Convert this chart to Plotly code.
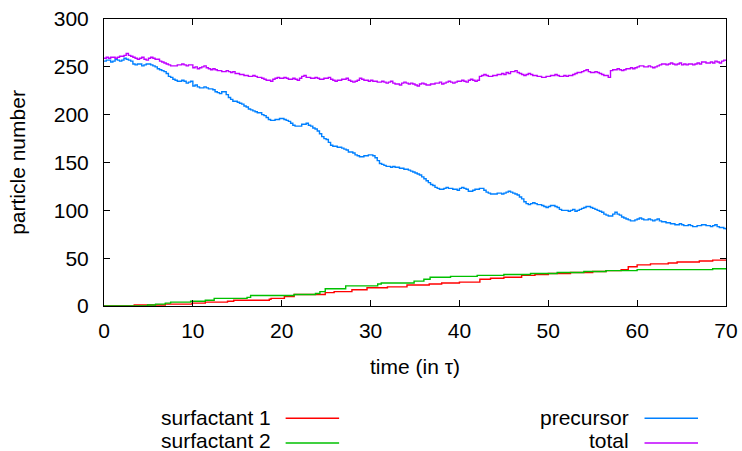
import plotly.graph_objects as go

# Time grid (in tau) for the sampled particle counts
t_grid = [i * 0.25 for i in range(281)]

# Precursor particle count, sampled every 0.25 tau (one row = 5 tau)
precursor = [
    256, 257, 257, 255, 256, 258, 257, 256, 257, 259, 258, 257, 256, 253, 252, 253, 253, 251, 252, 253,
    253, 252, 251, 250, 248, 247, 246, 245, 243, 240, 239, 237, 236, 235, 235, 236, 235, 233, 234, 235,
    230, 231, 229, 228, 228, 229, 228, 227, 227, 226, 224, 223, 222, 224, 224, 221, 218, 216, 214, 214,
    213, 212, 211, 209, 208, 206, 205, 204, 203, 202, 202, 200, 199, 197, 195, 194, 194, 195, 195, 196,
    196, 195, 194, 193, 191, 189, 188, 188, 188, 190, 190, 191, 189, 188, 186, 185, 183, 180, 177, 175,
    174, 171, 168, 167, 167, 166, 166, 165, 164, 163, 161, 161, 160, 158, 157, 156, 156, 157, 157, 158,
    158, 157, 155, 152, 149, 148, 147, 146, 146, 145, 146, 145, 145, 144, 144, 143, 143, 142, 141, 140,
    139, 138, 137, 135, 133, 131, 129, 127, 126, 124, 123, 122, 122, 123, 124, 123, 123, 122, 122, 121,
    123, 124, 123, 122, 120, 120, 121, 122, 122, 123, 123, 121, 119, 118, 117, 117, 117, 118, 118, 117,
    118, 119, 120, 119, 118, 117, 116, 114, 112, 109, 107, 106, 107, 108, 107, 106, 106, 105, 104, 103,
    104, 105, 105, 104, 103, 101, 100, 100, 100, 99, 100, 101, 99, 100, 101, 102, 103, 104, 104, 103,
    102, 101, 100, 99, 98, 96, 95, 94, 94, 96, 98, 96, 95, 93, 92, 91, 90, 89, 89, 90,
    91, 92, 91, 90, 90, 91, 90, 89, 90, 91, 89, 88, 88, 87, 87, 86, 86, 85, 85, 86,
    85, 84, 84, 85, 84, 83, 83, 84, 84, 85, 85, 84, 84, 83, 84, 85, 83, 82, 82, 81,
    80,
]

# Total particle count, sampled every 0.25 tau (one row = 5 tau)
total = [
    259, 260, 259, 260, 260, 259, 260, 261, 261, 262, 264, 262, 261, 260, 259, 258, 259, 260, 258, 257,
    259, 260, 259, 258, 258, 256, 255, 254, 253, 252, 251, 251, 251, 252, 252, 253, 252, 251, 252, 252,
    249, 250, 248, 249, 250, 251, 249, 248, 247, 248, 247, 246, 246, 245, 245, 246, 245, 244, 245, 243,
    243, 242, 242, 241, 241, 240, 240, 241, 240, 239, 239, 238, 237, 236, 236, 235, 237, 238, 239, 238,
    238, 239, 238, 237, 237, 238, 237, 236, 238, 240, 241, 239, 239, 238, 238, 239, 238, 237, 237, 238,
    238, 239, 237, 236, 235, 236, 236, 237, 237, 238, 236, 235, 234, 235, 236, 238, 237, 236, 236, 235,
    236, 235, 235, 234, 234, 235, 234, 233, 234, 235, 233, 232, 232, 231, 233, 234, 233, 232, 233, 232,
    231, 230, 232, 233, 232, 231, 231, 232, 232, 233, 233, 234, 232, 233, 234, 235, 234, 233, 234, 235,
    235, 236, 235, 234, 236, 237, 236, 235, 236, 240, 241, 242, 241, 240, 240, 241, 241, 242, 242, 243,
    242, 244, 243, 245, 245, 246, 244, 243, 242, 241, 242, 243, 242, 241, 241, 240, 240, 239, 239, 240,
    240, 241, 241, 242, 241, 240, 240, 241, 240, 241, 241, 242, 243, 244, 244, 245, 246, 247, 245, 244,
    244, 245, 244, 243, 242, 241, 241, 239, 246, 247, 247, 248, 247, 246, 247, 248, 248, 249, 248, 249,
    250, 251, 251, 250, 250, 251, 250, 249, 250, 251, 252, 253, 253, 252, 253, 254, 253, 252, 253, 254,
    252, 253, 252, 253, 253, 252, 253, 254, 253, 255, 255, 254, 254, 255, 254, 256, 255, 254, 256, 257,
    256,
]

# Surfactant counts change only at discrete events: (time, new count)
surf1_t = [0, 3.4, 6.9, 9.9, 11.4, 13.9, 14.6, 18.6, 18.8, 20.3, 21.4,
           24.9, 25.9, 27.9, 29.6, 31.9, 34.1, 36.6, 38.0, 40.0, 42.3,
           43.5, 45.0, 47.0, 48.5, 50.0, 52.5, 55.0, 56.5, 58.2, 59.0,
           60.0, 61.5, 63.5, 64.5, 67.0, 68.5, 70]
surf1_n = [0, 1, 2, 3, 4, 5, 6, 7, 8, 10, 12,
           14, 15, 17, 19, 20, 22, 23, 24, 25, 28,
           29, 30, 32, 33, 34, 35, 36, 37, 38, 41,
           43, 44, 45, 46, 47, 48, 48]

surf2_t = [0, 4.9, 5.8, 6.9, 7.5, 9.75, 11.4, 12.4, 16.1, 16.5, 21.4,
           23.8, 24.3, 24.9, 27.2, 30.8, 31.2, 34.9, 36.0, 36.7, 39.0,
           42.0, 45.0, 48.0, 51.0, 54.0, 56.5, 60.0, 68.5, 70]
surf2_n = [0, 1, 2, 3, 4, 5, 6, 8, 9, 11, 12,
           13, 15, 18, 21, 23, 24, 26, 28, 30, 31,
           32, 33, 34, 35, 36, 37, 38, 39, 39]

series = [
    ("surfactant 1", surf1_t, surf1_n, "#ff0000"),
    ("surfactant 2", surf2_t, surf2_n, "#00c000"),
    ("precursor", t_grid, precursor, "#0080ff"),
    ("total", t_grid, total, "#c000ff"),
]

FONT = "Liberation Sans, Arial, sans-serif"
FSIZE = 21

fig = go.Figure()
for name, xs, ys, color in series:
    fig.add_trace(go.Scatter(
        x=xs, y=ys, name=name, mode="lines",
        line=dict(color=color, width=1.4, shape="hv"),
        showlegend=False,
    ))

# Two-column key below the plot: right-aligned label followed by a line sample
key_rows = [(-0.3885, -0.3913, 0), (-0.4669, -0.4774, 1)]
key_cols = [(0.272, 0.292, 0.378), (0.848, 0.869, 0.955)]
for ci, (text_right, x0, x1) in enumerate(key_cols):
    for ty, ly, ri in key_rows:
        name, _, _, color = series[ci * 2 + ri]
        fig.add_annotation(
            x=text_right, y=ty, xref="paper", yref="paper",
            text=name, showarrow=False, xanchor="right", yanchor="middle",
            font=dict(family=FONT, size=FSIZE, color="black"),
        )
        fig.add_shape(
            type="line", xref="paper", yref="paper",
            x0=x0, x1=x1, y0=ly, y1=ly,
            line=dict(color=color, width=1.5),
        )

axis_common = dict(
    showline=True, linecolor="black", linewidth=1, mirror="ticks",
    ticks="inside", ticklen=6, tickcolor="black", tickwidth=1,
    showgrid=False, zeroline=False, automargin=False,
    tickfont=dict(family=FONT, size=FSIZE, color="black"),
)

fig.update_xaxes(
    range=[0, 70], dtick=10, tick0=0, ticklabelstandoff=6,
    title=dict(text="time (in \u03c4)", font=dict(family=FONT, size=FSIZE, color="black"),
               standoff=18),
    **axis_common,
)
fig.update_yaxes(
    range=[0, 300], dtick=50, tick0=0, ticklabelstandoff=10,
    title=dict(text="particle number", font=dict(family=FONT, size=FSIZE, color="black"),
               standoff=22),
    **axis_common,
)

fig.update_layout(
    width=742, height=451,
    margin=dict(l=104, r=16, t=19, b=145),
    plot_bgcolor="white", paper_bgcolor="white",
    font=dict(family=FONT, size=FSIZE, color="black"),
)

fig.write_html("out.html")
